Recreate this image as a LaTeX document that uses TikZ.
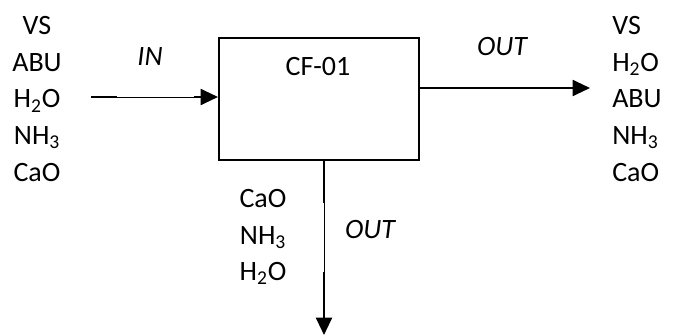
\documentclass[tikz,border=0pt]{standalone}
\usepackage{fontspec}
\setmainfont{Carlito}
\usetikzlibrary{arrows.meta, positioning}
\tikzset{
    unit/.style = {rectangle, draw, line width=1.5pt, minimum width=150pt, minimum height=91.5pt, inner sep=0pt},
    species/.style = {font=\fontsize{21}{27.6}\selectfont, inner sep=0pt},
    stream/.style = {font=\fontsize{21}{24}\selectfont\itshape, inner sep=0pt},
    flow/.style = {draw, line width=1.5pt},
    thinflow/.style = {draw, line width=0.6pt},
    tip/.style = {-{Triangle[length=13pt, width=12pt]}}
}
\begin{document}
\begin{tikzpicture}[x=0.75pt, y=-0.75pt]
        \useasboundingbox (0,0) rectangle (676,336);
        % Unit
        \node [unit, anchor=north west] (cf) at (218,37) {};
        \node [species] (cflabel) at (318,67) {CF-01};

        % Streams
        \node [species, align=center] (feed) at (37,99) {VS\\ABU\\H\textsubscript{2}O\\NH\textsubscript{3}\\CaO};
        \node [species, align=left, anchor=west] (top) at (612,99) {VS\\H\textsubscript{2}O\\ABU\\NH\textsubscript{3}\\CaO};
        \node [species, align=center] (bottom) at (263,237) {CaO\\NH\textsubscript{3}\\H\textsubscript{2}O};
        \node [stream] (in) at (150,57) {IN};
        \node [stream] (outtop) at (502,47) {OUT};
        \node [stream] (outbottom) at (370,230) {OUT};

        % Points along the lines
        \coordinate (inA) at (91,97);
        \coordinate (inB) at (117,97);
        \coordinate (inC) at (194,97);
        \coordinate (outA) at (cf.east |- 0,88);
        \coordinate (outB) at (590,88);
        \coordinate (botA) at (324,159);
        \coordinate (botB) at (324,203);
        \coordinate (botC) at (324,272);
        \coordinate (botD) at (324,335);

        % Lines
        \path [flow] (inA) -- (inB);
        \path [thinflow] (inB) -- (inC);
        \path [flow, tip] (inC) -- (cf.west |- inC);
        \path [flow, tip] (outA) -- (outB);
        \path [flow] (botA) -- (botB);
        \path [thinflow] (botB) -- (botC);
        \path [flow, tip] (botC) -- (botD);
    \end{tikzpicture}
\end{document}
